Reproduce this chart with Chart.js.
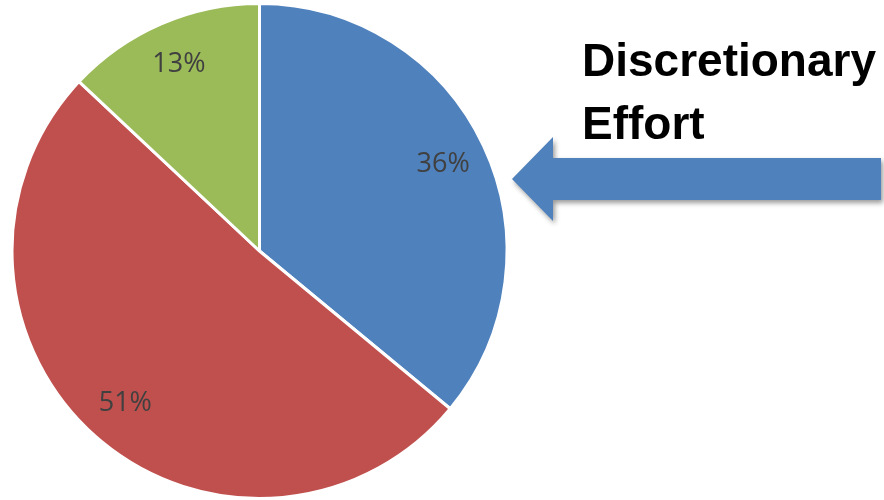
<!DOCTYPE html>
<html>
<head>
<meta charset="utf-8">
<script src="https://cdn.jsdelivr.net/npm/chart.js@4/dist/chart.umd.min.js"></script>
<style>
  html, body { margin: 0; padding: 0; background: #fff; }
  #wrap { position: relative; width: 884px; height: 500px; }
  #title { position: absolute; left: 582px; top: 29px; font-family: "Liberation Sans", Arial, sans-serif; font-weight: bold; font-size: 46px; line-height: 63px; color: #000; white-space: nowrap; }
</style>
</head>
<body>
<div id="wrap">
  <canvas id="c" width="884" height="500"></canvas>
  <div id="title">Discretionary<br>Effort</div>
</div>
<script>
const categories = ["Discretionary Effort", "Other", "Remaining"];
const values = [36, 51, 13];
const labels = ["36%", "51%", "13%"];
const colors = ["#4F81BD", "#C0504D", "#9BBB59"];

const sliceLabels = {
  id: 'sliceLabels',
  afterDatasetsDraw(chart) {
    const ctx = chart.ctx;
    const meta = chart.getDatasetMeta(0);
    ctx.save();
    ctx.font = '27px "Open Sans", sans-serif';
    ctx.fillStyle = '#404040';
    ctx.textAlign = 'center';
    ctx.textBaseline = 'middle';
    meta.data.forEach((arc, i) => {
      const p = arc.getProps(['x','y','startAngle','endAngle','outerRadius'], true);
      const mid = (p.startAngle + p.endAngle) / 2;
      const r = p.outerRadius * 0.82;
      ctx.fillText(labels[i], p.x + Math.cos(mid) * r, p.y + Math.sin(mid) * r);
    });
    ctx.restore();
  }
};

const arrow = {
  id: 'arrow',
  afterDraw(chart) {
    const ctx = chart.ctx;
    ctx.save();
    ctx.shadowColor = 'rgba(0,0,0,0.4)';
    ctx.shadowBlur = 5;
    ctx.shadowOffsetX = 2;
    ctx.shadowOffsetY = 3;
    ctx.fillStyle = '#4F81BD';
    ctx.beginPath();
    ctx.moveTo(512, 179);
    ctx.lineTo(553, 137);
    ctx.lineTo(553, 158);
    ctx.lineTo(881, 158);
    ctx.lineTo(881, 200);
    ctx.lineTo(553, 200);
    ctx.lineTo(553, 221);
    ctx.closePath();
    ctx.fill();
    ctx.restore();
  }
};

new Chart(document.getElementById('c'), {
  type: 'pie',
  data: {
    labels: categories,
    datasets: [{
      data: values,
      backgroundColor: colors,
      borderColor: '#ffffff',
      borderWidth: 3
    }]
  },
  options: {
    responsive: false,
    animation: false,
    layout: { padding: { left: 10, right: 375, top: 2, bottom: 0 } },
    plugins: { legend: { display: false }, tooltip: { enabled: false } }
  },
  plugins: [sliceLabels, arrow]
});
</script>
</body>
</html>
